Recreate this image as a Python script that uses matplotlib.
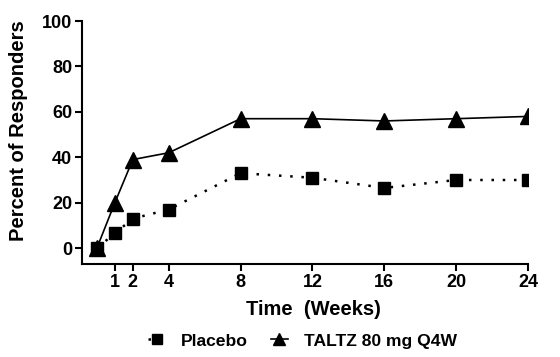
import matplotlib
matplotlib.use('Agg')
import matplotlib.pyplot as plt

plt.rcParams['font.family'] = ['Liberation Sans', 'DejaVu Sans']
plt.rcParams['font.weight'] = 'bold'

weeks = [0, 1, 2, 4, 8, 12, 16, 20, 24]
placebo = [0, 6.5, 13, 17, 33, 31, 26.5, 30, 30]
taltz = [0, 20, 39, 42, 57, 57, 56, 57, 58]
xticks = [1, 2, 4, 8, 12, 16, 20, 24]
yticks = [0, 20, 40, 60, 80, 100]

fig = plt.figure(figsize=(5.6, 3.57), dpi=100)
ax = fig.add_axes([0.1464, 0.2605, 0.7964, 0.6805])

ax.plot(weeks, placebo, color='black', linestyle=(0, (1, 3.5)), linewidth=1.8,
        marker='s', markersize=9, label='Placebo')
ax.plot(weeks, taltz, color='black', linestyle='-', linewidth=1.2,
        marker='^', markersize=11, label='TALTZ 80 mg Q4W')

ax.set_xlim(-0.83, 24)
ax.set_ylim(-7, 100)
ax.set_xticks(xticks)
ax.set_yticks(yticks)
ax.spines['top'].set_visible(False)
ax.spines['right'].set_visible(False)
for s in ['left', 'bottom']:
    ax.spines[s].set_linewidth(1.5)
ax.tick_params(width=1.5, length=5, labelsize=13, pad=2)
for lab in ax.get_xticklabels() + ax.get_yticklabels():
    lab.set_fontweight('bold')

ax.set_xlabel('Time  (Weeks)', fontsize=14.5, fontweight='bold')
ax.set_ylabel('Percent of Responders', fontsize=14.5, fontweight='bold')
ax.xaxis.set_label_coords(0.518, -0.15)
ax.yaxis.set_label_coords(-0.122, 0.551)

fig.legend(loc='center', bbox_to_anchor=(0.54, 0.045), ncol=2, frameon=False,
           fontsize=12.6, handlelength=1.0, columnspacing=1.3, handletextpad=0.9,
           markerscale=0.8)

fig.savefig('out.png', dpi=100)
